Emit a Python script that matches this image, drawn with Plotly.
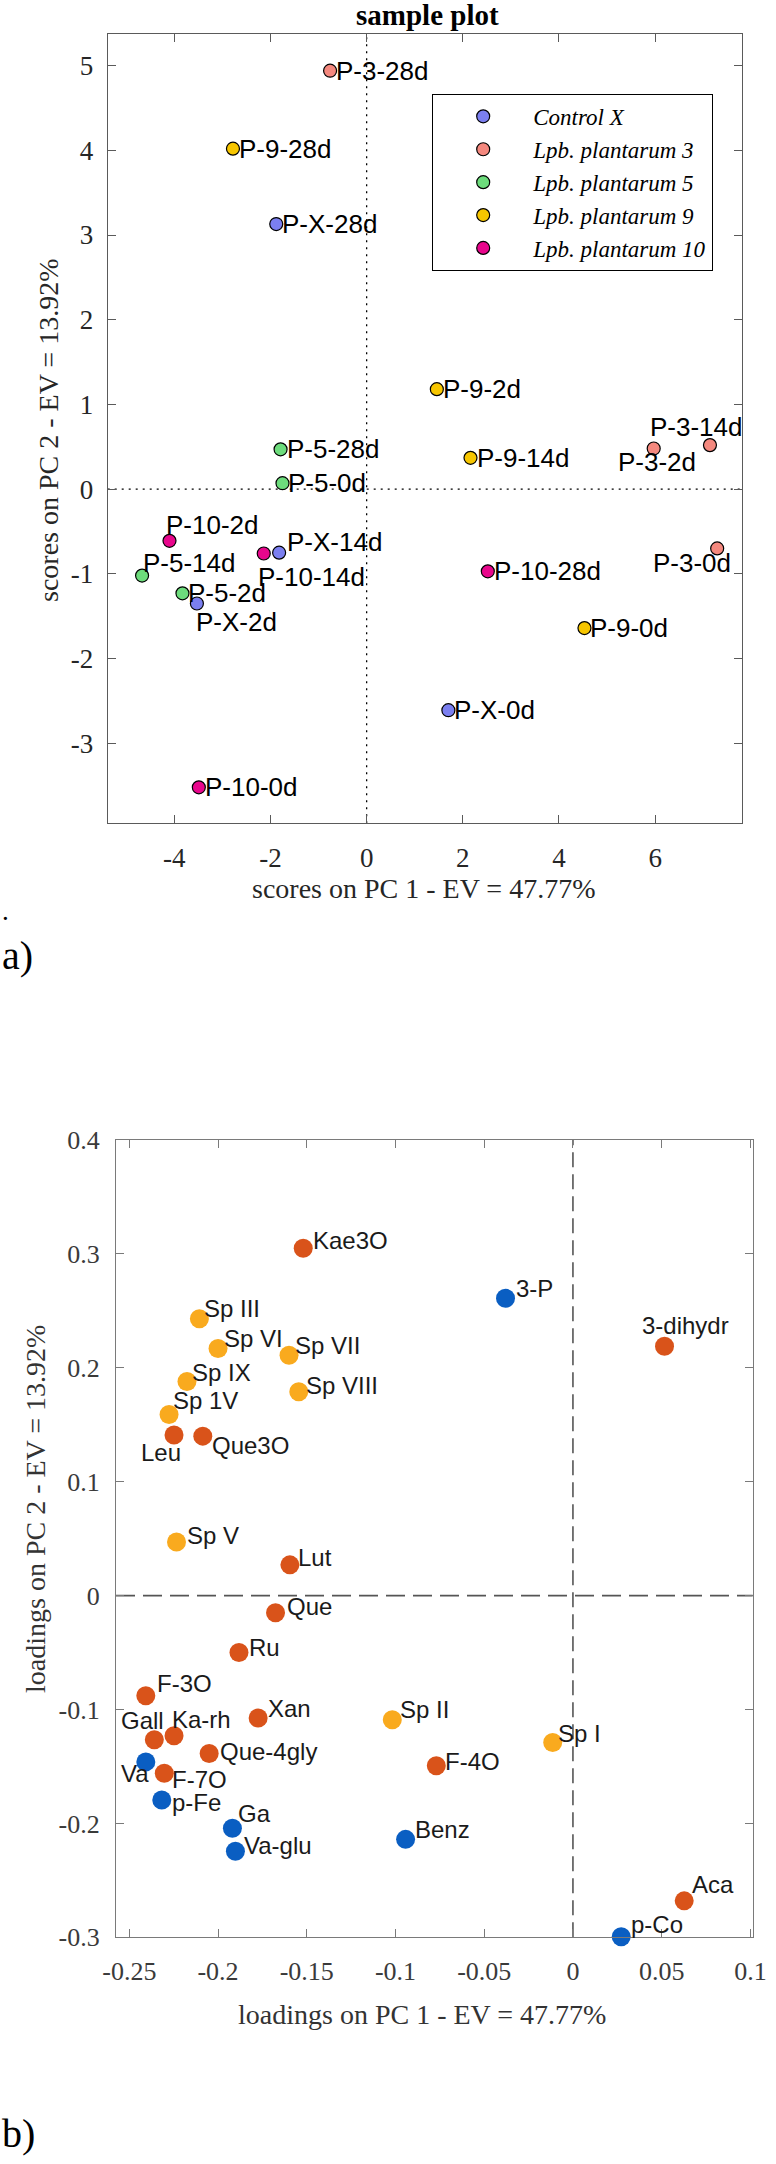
import plotly.graph_objects as go

W, H = 776, 2164

# ---------------- data: scores plot (a) ----------------
score_groups = ["Control X", "Lpb. plantarum 3", "Lpb. plantarum 5",
                "Lpb. plantarum 9", "Lpb. plantarum 10"]
score_labels = ["P-X-28d", "P-X-14d", "P-X-2d", "P-X-0d",
                "P-3-28d", "P-3-14d", "P-3-2d", "P-3-0d",
                "P-5-28d", "P-5-0d", "P-5-14d", "P-5-2d",
                "P-9-28d", "P-9-2d", "P-9-14d", "P-9-0d",
                "P-10-2d", "P-10-14d", "P-10-28d", "P-10-0d"]
score_pc1 = [-1.88, -1.82, -3.53, 1.70,
             -0.76, 7.14, 5.97, 7.29,
             -1.79, -1.75, -4.67, -3.83,
             -2.78, 1.46, 2.16, 4.53,
             -4.10, -2.14, 2.52, -3.49]
score_pc2 = [3.13, -0.75, -1.35, -2.61,
             4.94, 0.52, 0.48, -0.70,
             0.47, 0.07, -1.02, -1.23,
             4.02, 1.18, 0.37, -1.64,
             -0.61, -0.76, -0.97, -3.52]
score_group = ["Control X"] * 4 + ["Lpb. plantarum 3"] * 4 + ["Lpb. plantarum 5"] * 4 + \
              ["Lpb. plantarum 9"] * 4 + ["Lpb. plantarum 10"] * 4
score_xticks = [-4, -2, 0, 2, 4, 6]
score_xticktext = ["-4", "-2", "0", "2", "4", "6"]
score_yticks = [-3, -2, -1, 0, 1, 2, 3, 4, 5]
score_yticktext = ["-3", "-2", "-1", "0", "1", "2", "3", "4", "5"]

# ---------------- data: loadings plot (b) ----------------
load_labels = ["Kae3O", "3-P", "Sp III", "3-dihydr", "Sp VI", "Sp VII", "Sp IX", "Sp VIII",
               "Sp 1V", "Leu", "Que3O", "Sp V", "Lut", "Que", "Ru", "F-3O", "Xan", "Sp II",
               "Gall", "Ka-rh", "Sp I", "Que-4gly", "Va", "F-7O", "F-4O", "p-Fe", "Ga",
               "Benz", "Va-glu", "Aca", "p-Co"]
load_pc1 = [-0.152, -0.038, -0.2105, 0.0516, -0.200, -0.160, -0.2175, -0.1545,
            -0.2276, -0.2248, -0.2086, -0.2234, -0.1595, -0.1676, -0.1882, -0.2407, -0.1774, -0.1018,
            -0.2359, -0.2248, -0.0114, -0.205, -0.2407, -0.2303, -0.077, -0.2317, -0.1919,
            -0.0943, -0.1902, 0.0627, 0.0272]
load_pc2 = [0.305, 0.261, 0.243, 0.219, 0.217, 0.211, 0.188, 0.179,
            0.159, 0.141, 0.140, 0.047, 0.027, -0.015, -0.050, -0.088, -0.1075, -0.109,
            -0.1265, -0.123, -0.129, -0.1386, -0.146, -0.156, -0.1494, -0.1794, -0.2042,
            -0.214, -0.2245, -0.268, -0.2995]
load_class = ["o", "b", "y", "o", "y", "y", "y", "y",
              "y", "o", "o", "y", "o", "o", "o", "o", "o", "y",
              "o", "o", "y", "o", "b", "o", "o", "b", "b",
              "b", "b", "o", "b"]
load_xticks = [-0.25, -0.2, -0.15, -0.1, -0.05, 0, 0.05, 0.1]
load_xticktext = ["-0.25", "-0.2", "-0.15", "-0.1", "-0.05", "0", "0.05", "0.1"]
load_yticks = [-0.3, -0.2, -0.1, 0, 0.1, 0.2, 0.3, 0.4]
load_yticktext = ["-0.3", "-0.2", "-0.1", "0", "0.1", "0.2", "0.3", "0.4"]

# ---------------- styles ----------------
group_colors = {"Control X": "#7b7ff0", "Lpb. plantarum 3": "#f4887e",
                "Lpb. plantarum 5": "#6ddc7c", "Lpb. plantarum 9": "#f7c600",
                "Lpb. plantarum 10": "#e8068c"}
class_colors = {"b": "#0a5ec2", "o": "#d9531a", "y": "#f9aa1e"}

# label placement (xanchor, xshift, yshift) in px
score_place = {"P-3-14d": ("center", -13, 18), "P-3-2d": ("center", 3, -14),
               "P-10-2d": ("left", -5, 16), "P-10-14d": ("left", -8, -23),
               "P-X-14d": ("left", 6, 11), "P-5-14d": ("left", -1, 13),
               "P-X-2d": ("left", -3, -18), "P-3-0d": ("center", -25, -15)}
load_place = {"Kae3O": ("left", 8, 8), "3-P": ("left", 8, 10), "Sp III": ("left", 3, 10),
              "3-dihydr": ("center", 21, 21), "Sp VI": ("left", 4, 10), "Sp VII": ("left", 4, 10),
              "Sp IX": ("left", 3, 9), "Sp VIII": ("left", 5, 6), "Sp 1V": ("left", 2, 14),
              "Leu": ("right", 9, -17), "Que3O": ("left", 7, -9), "Sp V": ("left", 8, 7),
              "Lut": ("left", 6, 7), "Que": ("left", 9, 6), "Ru": ("left", 8, 5),
              "F-3O": ("left", 9, 12), "Xan": ("left", 8, 10), "Sp II": ("left", 6, 10),
              "Gall": ("right", 12, 19), "Ka-rh": ("left", -4, 16), "Sp I": ("left", 3, 9),
              "Que-4gly": ("left", 9, 2), "Va": ("right", 5, -12), "F-7O": ("left", 6, -6),
              "F-4O": ("left", 7, 4), "p-Fe": ("left", 8, -3), "Ga": ("left", 4, 15),
              "Benz": ("left", 7, 10), "Va-glu": ("left", 7, 6), "Aca": ("left", 6, 16),
              "p-Co": ("left", 8, 12)}

SERIF = "Liberation Serif, Times New Roman, serif"
SANS = "Liberation Sans, Arial, Helvetica, sans-serif"

fig = go.Figure()

# scores traces
for g in score_groups:
    idx = [i for i, gg in enumerate(score_group) if gg == g]
    fig.add_trace(go.Scatter(
        x=[score_pc1[i] for i in idx], y=[score_pc2[i] for i in idx],
        mode="markers", name=g, xaxis="x", yaxis="y", cliponaxis=False,
        marker=dict(size=13, color=group_colors[g], line=dict(color="black", width=1.2)),
        hoverinfo="text", text=[score_labels[i] for i in idx]))

# loadings traces
for c in ["b", "y", "o"]:
    idx = [i for i, cc in enumerate(load_class) if cc == c]
    fig.add_trace(go.Scatter(
        x=[load_pc1[i] for i in idx], y=[load_pc2[i] for i in idx],
        mode="markers", showlegend=False, xaxis="x2", yaxis="y2", cliponaxis=False,
        marker=dict(size=19, color=class_colors[c], line=dict(width=0)),
        hoverinfo="text", text=[load_labels[i] for i in idx]))

ann = []
for lab, x, y in zip(score_labels, score_pc1, score_pc2):
    xa, dx, dy = score_place.get(lab, ("left", 4, 0))
    ann.append(dict(x=x, y=y, xref="x", yref="y", text=lab, showarrow=False,
                    xanchor=xa, yanchor="middle", xshift=dx, yshift=dy,
                    font=dict(family=SANS, size=26, color="black")))
for lab, x, y in zip(load_labels, load_pc1, load_pc2):
    xa, dx, dy = load_place[lab]
    ann.append(dict(x=x, y=y, xref="x2", yref="y2", text=lab, showarrow=False,
                    xanchor=xa, yanchor="middle", xshift=dx, yshift=dy,
                    font=dict(family=SANS, size=24, color="#1a1a1a")))


def P(px, py):
    return px / W, 1 - py / H


def text_ann(px, py, txt, size, color="black", angle=0, xanchor="center", bold=False):
    x, y = P(px, py)
    return dict(x=x, y=y, xref="paper", yref="paper", text=("<b>%s</b>" % txt) if bold else txt,
                showarrow=False, xanchor=xanchor, yanchor="middle", textangle=angle,
                font=dict(family=SERIF, size=size, color=color))


ann += [
    text_ann(427, 15, "sample plot", 29, bold=True),
    text_ann(423.5, 888, "scores on PC 1 - EV = 47.77%", 28, color="#262626"),
    text_ann(48, 431, "scores on PC 2 - EV = 13.92%", 28, color="#262626", angle=-90),
    text_ann(0, 911, ".", 27, xanchor="left"),
    text_ann(0, 955, "a)", 40, xanchor="left"),
    text_ann(422.5, 2014, "loadings on PC 1 - EV = 47.77%", 28, color="#333333"),
    text_ann(35, 1509, "loadings on PC 2 - EV = 13.92%", 28, color="#333333", angle=-90),
    text_ann(0, 2133, "b)", 40, xanchor="left"),
]

shapes = [
    dict(type="line", xref="x", yref="y domain", x0=0, x1=0, y0=0, y1=1,
         line=dict(color="black", width=1.3, dash="2px,5px"), layer="below"),
    dict(type="line", xref="x domain", yref="y", x0=0, x1=1, y0=0, y1=0,
         line=dict(color="black", width=1.3, dash="2px,5px"), layer="below"),
    dict(type="line", xref="x2", yref="y2 domain", x0=0, x1=0, y0=0, y1=1,
         line=dict(color="#555555", width=1.6, dash="15px,7px"), layer="below"),
    dict(type="line", xref="x2 domain", yref="y2", x0=0, x1=1, y0=0, y1=0,
         line=dict(color="#555555", width=1.6, dash="19px,8px"), layer="below"),
]

ax1 = dict(showgrid=False, zeroline=False, showline=True, mirror="ticks", ticks="inside",
           ticklen=8, tickwidth=1, linecolor="#5a5a5a", tickcolor="#5a5a5a", linewidth=1.3,
           tickfont=dict(family=SERIF, size=27, color="#262626"))
ax2 = dict(showgrid=False, zeroline=False, showline=True, mirror="ticks", ticks="inside",
           ticklen=8, tickwidth=1, linecolor="#7a7a7a", tickcolor="#7a7a7a", linewidth=1.3,
           tickfont=dict(family=SERIF, size=26, color="#3a3a3a"))

fig.update_layout(
    width=W, height=H, margin=dict(l=0, r=0, t=0, b=0, autoexpand=False),
    paper_bgcolor="white", plot_bgcolor="white",
    showlegend=True,
    legend=dict(x=432 / W, y=1 - 93.7 / H, xanchor="left", yanchor="top",
                bgcolor="white", bordercolor="black", borderwidth=1.2,
                font=dict(family=SERIF, size=23, style="italic", color="black"),
                itemwidth=90, tracegroupgap=0),
    xaxis=dict(ax1, domain=[107.7 / W, 741.7 / W], range=[-5.385, 7.80],
               tickvals=score_xticks, ticktext=score_xticktext, anchor="y",
               ticklabelstandoff=10),
    yaxis=dict(ax1, domain=[1 - 823.3 / H, 1 - 34.3 / H], range=[-3.945, 5.37],
               tickvals=score_yticks, ticktext=score_yticktext, anchor="x",
               ticklabelstandoff=8),
    xaxis2=dict(ax2, domain=[116 / W, 752.7 / W], range=[-0.2575, 0.1013],
                tickvals=load_xticks, ticktext=load_xticktext, anchor="y2",
                ticklabelstandoff=10),
    yaxis2=dict(ax2, domain=[1 - 1937.3 / H, 1 - 1140 / H], range=[-0.3, 0.4],
                tickvals=load_yticks, ticktext=load_yticktext, anchor="x2",
                ticklabelstandoff=10),
    annotations=ann, shapes=shapes,
)

fig.write_html("out.html")
